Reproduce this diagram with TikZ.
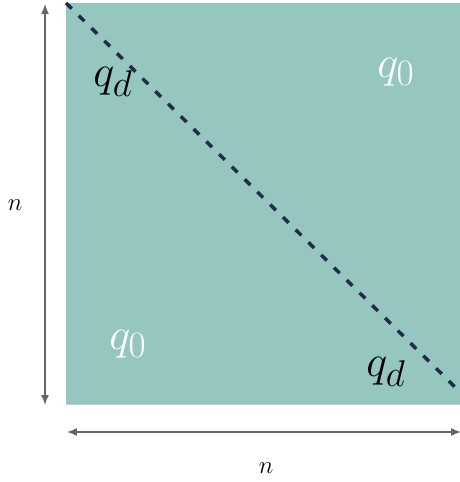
\documentclass[tikz,border=0pt]{standalone}
\usetikzlibrary{arrows.meta}
\definecolor{tealfill}{HTML}{96C6C0}
\definecolor{diagnavy}{HTML}{1F2D4A}
\definecolor{axisgray}{HTML}{666666}
\tikzset{
  dimarrow/.style={axisgray, line width=1.4pt, {Latex[length=10pt,width=8pt]}-{Latex[length=10pt,width=8pt]}},
  biglabel/.style={font=\Huge, scale=1.8},
  dimlabel/.style={font=\Huge, scale=1.0},
}
\begin{document}
\begin{tikzpicture}[x=1bp, y=1bp]
  \useasboundingbox (0,0) rectangle (460,482);
  % matrix area
  \fill[tealfill] (66,78) rectangle (460,479);
  \draw[gray!40, line width=0.8pt] (66,78) -- (460,78);
  % diagonal
  \coordinate (diagtop) at (66,479);
  \coordinate (diagbot) at (458,92);
  \draw[diagnavy, line width=3.5pt, dash pattern=on 8pt off 10pt] (diagtop) -- (diagbot);
  % labels
  \node[biglabel] (qdtop) at (113,400) {$q_d$};
  \node[biglabel] (qdbot) at (386,110) {$q_d$};
  \node[biglabel, white] (qzerotop) at (396,410) {$q_0$};
  \node[biglabel, white] (qzerobot) at (128,138) {$q_0$};
  % dimensions
  \coordinate (vtop) at (45,478);
  \coordinate (vbot) at (45,77);
  \coordinate (hleft) at (67,50);
  \coordinate (hright) at (461,50);
  \draw[dimarrow] (vbot) -- (vtop);
  \draw[dimarrow] (hleft) -- (hright);
  \node[dimlabel] (nleft) at (15,277) {$n$};
  \node[dimlabel] (nbottom) at (266,14) {$n$};
\end{tikzpicture}
\end{document}
